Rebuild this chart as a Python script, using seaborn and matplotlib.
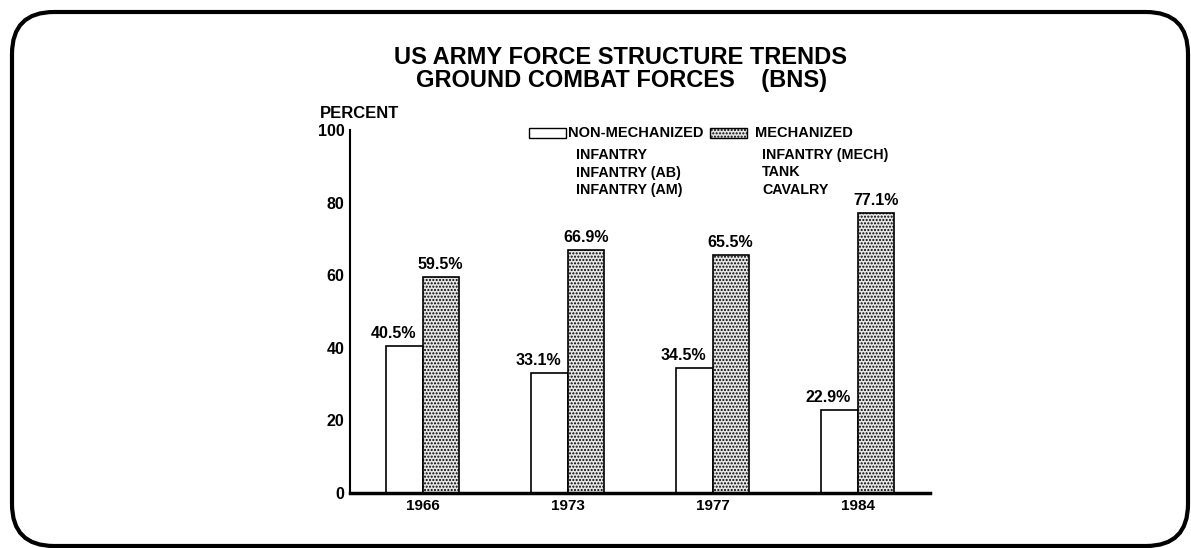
import matplotlib
matplotlib.use("Agg")
import matplotlib.pyplot as plt
import seaborn as sns
import pandas as pd
from matplotlib.patches import FancyBboxPatch, Rectangle
from matplotlib.transforms import IdentityTransform

# ---- data ----
years = ["1966", "1973", "1977", "1984"]
non_mechanized = [40.5, 33.1, 34.5, 22.9]
mechanized = [59.5, 66.9, 65.5, 77.1]
series_names = ["NON-MECHANIZED", "MECHANIZED"]
non_mech_items = ["INFANTRY", "INFANTRY (AB)", "INFANTRY (AM)"]
mech_items = ["INFANTRY (MECH)", "TANK", "CAVALRY"]
y_ticks = [0, 20, 40, 60, 80, 100]

df = pd.DataFrame({
    "year": years * 2,
    "value": non_mechanized + mechanized,
    "type": [series_names[0]] * len(years) + [series_names[1]] * len(years),
})

sns.set_style("white")
plt.rcParams["font.family"] = ["Liberation Sans", "DejaVu Sans"]
plt.rcParams["font.weight"] = "bold"
plt.rcParams["text.color"] = "black"
plt.rcParams["hatch.linewidth"] = 1.0
plt.rcParams["hatch.color"] = "#111111"

W, H = 1191, 548
fig = plt.figure(figsize=(W / 100, H / 100), dpi=100)
fig.patch.set_facecolor("white")

def fx(px):
    return px / W

def fy(py):
    return 1 - py / H

ax_left, ax_right, ax_top, ax_bottom = 350, 930, 130, 493
ax = fig.add_axes([fx(ax_left), fy(ax_bottom), fx(ax_right - ax_left), (ax_bottom - ax_top) / H])

sns.barplot(data=df, x="year", y="value", hue="type", order=years,
            hue_order=series_names, palette=["white", "#e6e6e6"],
            width=0.5, dodge=True, edgecolor="black", linewidth=1.2,
            saturation=1, legend=False, ax=ax)

for i, cont in enumerate(ax.containers):
    for p in cont:
        if i == 1:
            p.set_hatch(".....")
        p.set_edgecolor("black")
    texts = ax.bar_label(cont, fmt="%.1f%%", padding=3.5, fontsize=11.5,
                         fontweight="bold", color="black")
    if i == 0:
        for t in texts:
            t.xyann = (-8, t.xyann[1])

ax.set_xlim(-0.5, 3.5)
ax.set_ylim(0, 100)
ax.set_yticks(y_ticks)
ax.set_xlabel("")
ax.set_ylabel("")
for s in ["top", "right"]:
    ax.spines[s].set_visible(False)
ax.spines["left"].set_linewidth(1.5)
ax.spines["bottom"].set_linewidth(2.5)
ax.spines["left"].set_color("black")
ax.spines["bottom"].set_color("black")
ax.tick_params(axis="y", direction="in", length=6, width=1.3, pad=4,
               labelsize=11.5, colors="black")
ax.tick_params(axis="x", length=0, pad=4, labelsize=11, colors="black")
for lab in ax.get_xticklabels() + ax.get_yticklabels():
    lab.set_fontweight("bold")

# ---- titles ----
fig.text(fx(620), fy(57), "US ARMY FORCE STRUCTURE TRENDS", ha="center",
         va="center", fontsize=17, fontweight="bold")
fig.text(fx(621), fy(80), "GROUND COMBAT FORCES    (BNS)", ha="center",
         va="center", fontsize=17, fontweight="bold")
fig.text(fx(320), fy(113), "PERCENT", ha="left", va="center",
         fontsize=12, fontweight="bold")

# ---- legend ----
cont0, cont1 = ax.containers[0], ax.containers[1]
legend_boxes = [(529, cont0[0]), (710, cont1[0])]
header_x = [568, 755]
for (bx, src), tx, name in zip(legend_boxes, header_x, series_names):
    r = Rectangle((fx(bx), fy(138)), fx(37), 10 / H, transform=fig.transFigure,
                  facecolor=src.get_facecolor(), edgecolor="black",
                  linewidth=1.0, hatch=src.get_hatch())
    fig.add_artist(r)
    fig.text(fx(tx), fy(133), name, ha="left", va="center", fontsize=10.5,
             fontweight="bold")
rows = [155, 172.5, 190]
for items, x0 in [(non_mech_items, 576), (mech_items, 762)]:
    for item, ry in zip(items, rows):
        fig.text(fx(x0), fy(ry), item, ha="left", va="center", fontsize=10.3,
                 fontweight="bold")

# ---- rounded frame ----
frame = FancyBboxPatch((12, H - 546), 1176, 534,
                       boxstyle="round,pad=0,rounding_size=42",
                       transform=IdentityTransform(), facecolor="none",
                       edgecolor="black", linewidth=3.0)
fig.add_artist(frame)

fig.savefig("out.png", dpi=100, facecolor="white")
